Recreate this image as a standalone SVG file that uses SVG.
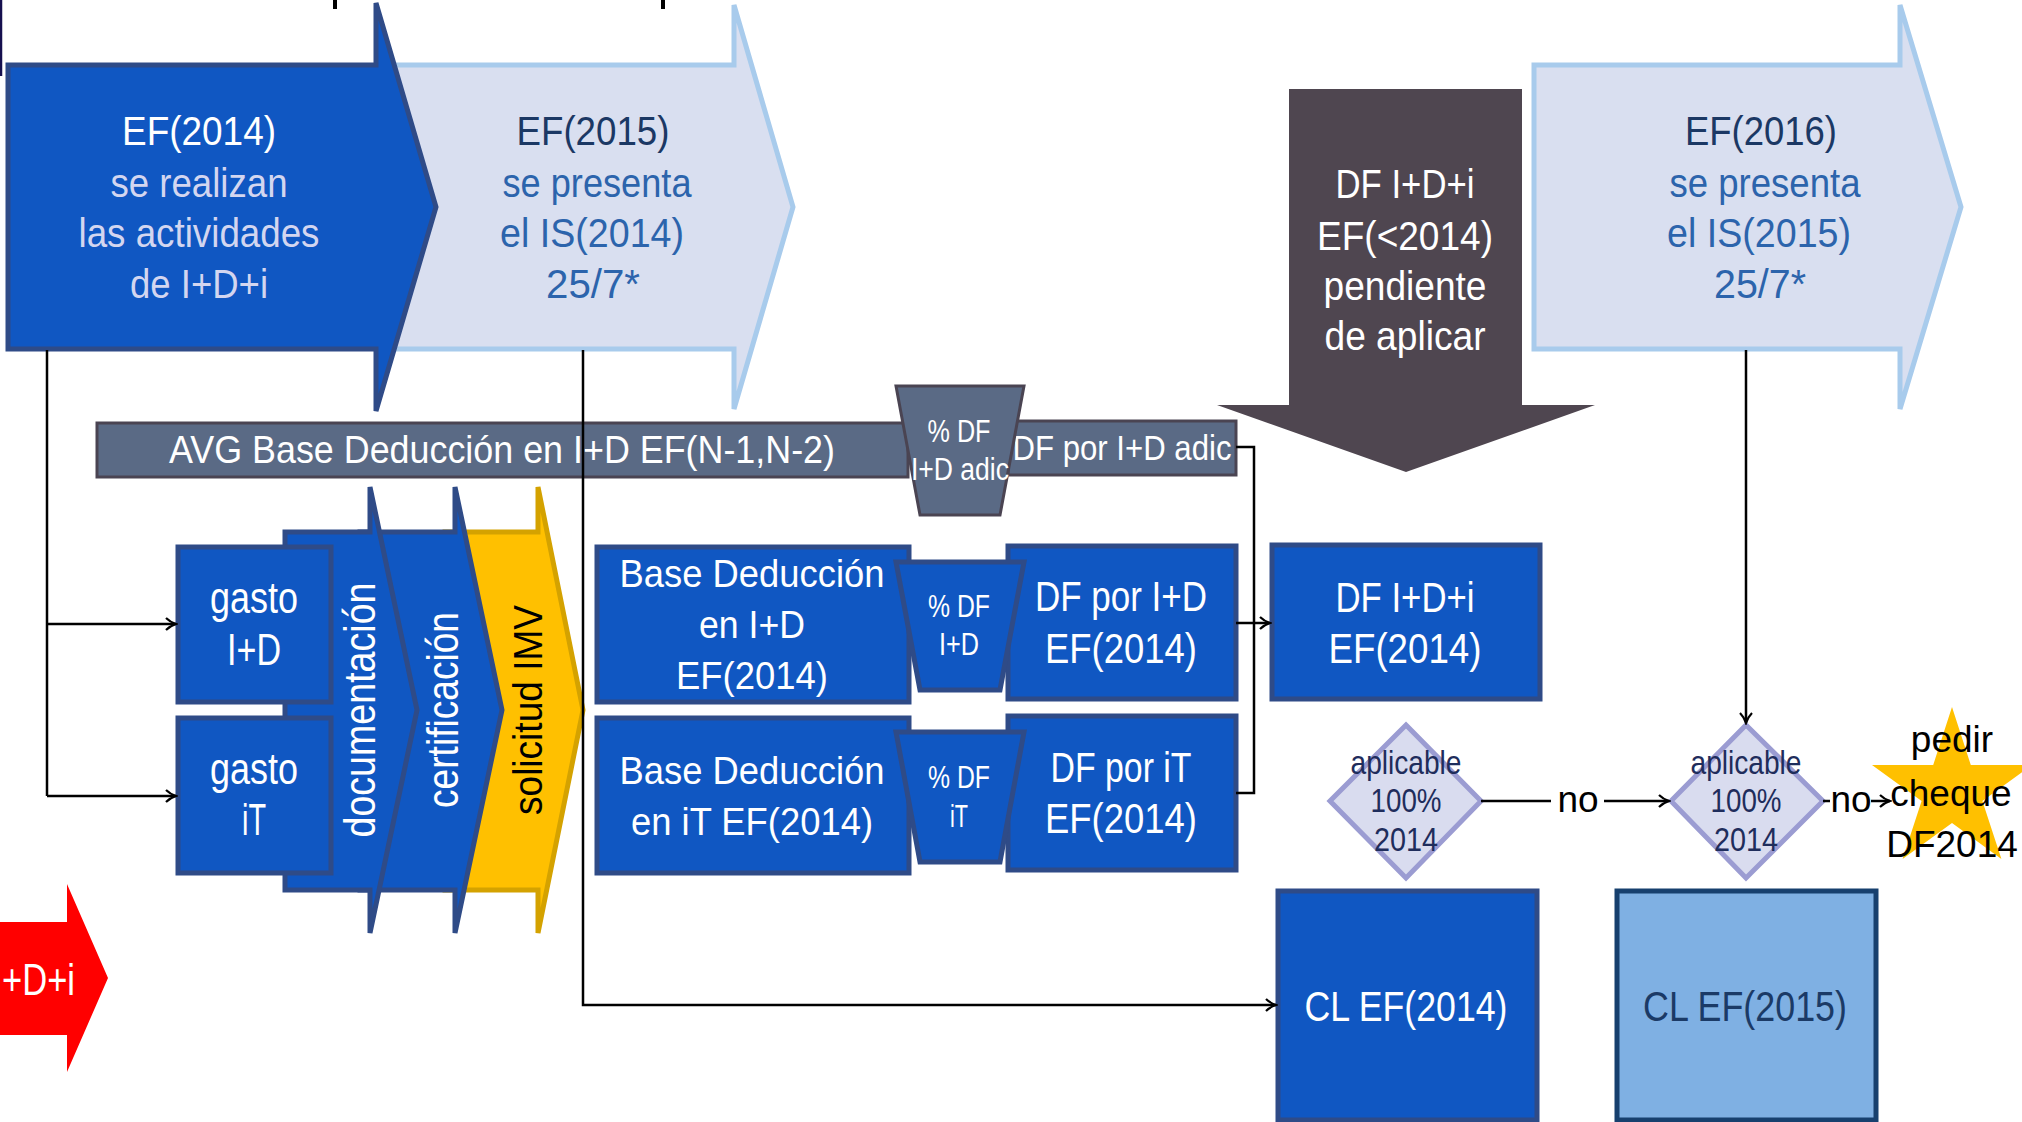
<svg xmlns="http://www.w3.org/2000/svg" width="2022" height="1122" viewBox="0 0 2022 1122">
<defs>
<marker id="arr" markerWidth="14" markerHeight="14" refX="12" refY="7" orient="auto" markerUnits="userSpaceOnUse"><path d="M2,1 Q6,5 12,7 Q6,9 2,13" fill="none" stroke="#000" stroke-width="2.2"/></marker>
<linearGradient id="edge" x1="0" y1="0" x2="0" y2="1"><stop offset="0" stop-color="#16104F"/><stop offset="0.6" stop-color="#3A3570"/><stop offset="1" stop-color="#D8D8E6"/></linearGradient>
<style>
text{font-family:"Liberation Sans",Arial,sans-serif;}
.blue{fill:#1057C2;stroke:#2F4B87;stroke-width:5;stroke-linejoin:miter;}
.light{fill:#D9DFF0;stroke:#A8CBEC;stroke-width:5;}
.slate{fill:#5A6A85;stroke:#4A4452;stroke-width:3;}
.diam{fill:#D9DCEF;stroke:#9B9CD2;stroke-width:5;}
.conn{fill:none;stroke:#000;stroke-width:2.5;}
.w{fill:#FFFFFF;text-anchor:middle;}
.lav{fill:#D3D6F0;text-anchor:middle;}
.navy{fill:#1B3864;text-anchor:middle;}
.mid{fill:#2C64AC;text-anchor:middle;}
.dk{fill:#1F2D5C;text-anchor:middle;}
.bk{fill:#000;text-anchor:middle;}
</style>
</defs>
<rect width="2022" height="1122" fill="#FFFFFF"/>
<line x1="1" y1="0" x2="1" y2="76" stroke="#16104F" stroke-width="2.5"/>
<line x1="1" y1="86" x2="1" y2="1122" stroke="url(#edge)" stroke-width="2.5"/>
<rect x="333" y="0" width="4" height="9" fill="#000"/>
<rect x="661" y="0" width="4" height="9" fill="#000"/>

<g id="ef2015">
<polygon class="light" points="378,65 734,65 734,5 793,207 734,409 734,349 378,349"/>
<text class="navy" x="593" y="145" font-size="41" textLength="153" lengthAdjust="spacingAndGlyphs">EF(2015)</text>
<text class="mid" x="597" y="197" font-size="41" textLength="189" lengthAdjust="spacingAndGlyphs">se presenta</text>
<text class="mid" x="592" y="247" font-size="41" textLength="184" lengthAdjust="spacingAndGlyphs">el IS(2014)</text>
<text class="mid" x="593" y="298" font-size="41" textLength="94" lengthAdjust="spacingAndGlyphs">25/7*</text>
</g>
<g id="ef2014">
<polygon class="blue" points="8,65 376,65 376,3 436,207 376,411 376,349 8,349"/>
<text class="w" x="199" y="145" font-size="41" textLength="154" lengthAdjust="spacingAndGlyphs">EF(2014)</text>
<text class="lav" x="199" y="197" font-size="41" textLength="177" lengthAdjust="spacingAndGlyphs">se realizan</text>
<text class="lav" x="199" y="247" font-size="41" textLength="241" lengthAdjust="spacingAndGlyphs">las actividades</text>
<text class="lav" x="199" y="298" font-size="41" textLength="138" lengthAdjust="spacingAndGlyphs">de I+D+i</text>
</g>
<g id="ef2016">
<polygon class="light" points="1534,65 1900,65 1900,5 1961,207 1900,409 1900,349 1534,349"/>
<text class="navy" x="1761" y="145" font-size="41" textLength="152" lengthAdjust="spacingAndGlyphs">EF(2016)</text>
<text class="mid" x="1765" y="197" font-size="41" textLength="191" lengthAdjust="spacingAndGlyphs">se presenta</text>
<text class="mid" x="1759" y="247" font-size="41" textLength="184" lengthAdjust="spacingAndGlyphs">el IS(2015)</text>
<text class="mid" x="1760" y="298" font-size="41" textLength="92" lengthAdjust="spacingAndGlyphs">25/7*</text>
</g>
<g id="df-pendiente">
<polygon points="1289,89 1522,89 1522,405 1595,405 1406,472 1217,405 1289,405" fill="#4F4650"/>
<text class="w" x="1405" y="198" font-size="40" textLength="139" lengthAdjust="spacingAndGlyphs">DF I+D+i</text>
<text class="w" x="1405" y="250" font-size="40" textLength="176" lengthAdjust="spacingAndGlyphs">EF(&lt;2014)</text>
<text class="w" x="1405" y="300" font-size="40" textLength="163" lengthAdjust="spacingAndGlyphs">pendiente</text>
<text class="w" x="1405" y="350" font-size="40" textLength="161" lengthAdjust="spacingAndGlyphs">de aplicar</text>
</g>

<g id="avg-base">
<rect class="slate" x="97" y="423" width="811" height="54"/>
<text class="w" x="502" y="463" font-size="39" textLength="666" lengthAdjust="spacingAndGlyphs">AVG Base Deducción en I+D EF(N-1,N-2)</text>
</g>
<g id="df-adic">
<rect class="slate" x="1008" y="421" width="228" height="54"/>
<text class="w" x="1122" y="460" font-size="35" textLength="219" lengthAdjust="spacingAndGlyphs">DF por I+D adic</text>
</g>
<g id="pct-adic">
<polygon class="slate" points="896,386 1024,386 1000,515 920,515"/>
<text class="w" x="959" y="442" font-size="31" textLength="63" lengthAdjust="spacingAndGlyphs">% DF</text>
<text class="w" x="960" y="480" font-size="31" textLength="98" lengthAdjust="spacingAndGlyphs">I+D adic</text>
</g>

<g id="solicitud">
<polygon points="445,532 538,532 538,487 583,710 538,933 538,890 445,890" fill="#FFC000" stroke="#D4A200" stroke-width="5"/>
<text transform="translate(542,710) rotate(-90)" x="0" y="0" font-size="40" fill="#000" text-anchor="middle" textLength="210" lengthAdjust="spacingAndGlyphs">solicitud IMV</text>
</g>
<g id="certificacion">
<polygon class="blue" points="360,532 455,532 455,487 502,710 455,933 455,890 360,890"/>
<text transform="translate(458,710) rotate(-90)" x="0" y="0" font-size="44" class="w" textLength="196" lengthAdjust="spacingAndGlyphs">certificación</text>
</g>
<g id="documentacion">
<polygon class="blue" points="285,532 370,532 370,487 417,710 370,933 370,890 285,890"/>
<text transform="translate(375,710) rotate(-90)" x="0" y="0" font-size="45" class="w" textLength="255" lengthAdjust="spacingAndGlyphs">documentación</text>
</g>
<g id="gasto-id">
<rect class="blue" x="178" y="547" width="153" height="155"/>
<text class="w" x="254" y="613" font-size="44" textLength="88" lengthAdjust="spacingAndGlyphs">gasto</text>
<text class="w" x="254" y="665" font-size="44" textLength="54" lengthAdjust="spacingAndGlyphs">I+D</text>
</g>
<g id="gasto-it">
<rect class="blue" x="178" y="718" width="153" height="155"/>
<text class="w" x="254" y="784" font-size="44" textLength="88" lengthAdjust="spacingAndGlyphs">gasto</text>
<text class="w" x="254" y="835" font-size="44" textLength="24" lengthAdjust="spacingAndGlyphs">iT</text>
</g>

<g id="base-id">
<rect class="blue" x="597" y="547" width="312" height="155"/>
<text class="w" x="752" y="587" font-size="39" textLength="265" lengthAdjust="spacingAndGlyphs">Base Deducción</text>
<text class="w" x="752" y="638" font-size="39" textLength="106" lengthAdjust="spacingAndGlyphs">en I+D</text>
<text class="w" x="752" y="689" font-size="39" textLength="152" lengthAdjust="spacingAndGlyphs">EF(2014)</text>
</g>
<g id="base-it">
<rect class="blue" x="597" y="718" width="312" height="155"/>
<text class="w" x="752" y="784" font-size="39" textLength="265" lengthAdjust="spacingAndGlyphs">Base Deducción</text>
<text class="w" x="752" y="835" font-size="39" textLength="242" lengthAdjust="spacingAndGlyphs">en iT EF(2014)</text>
</g>
<g id="df-id">
<rect class="blue" x="1008" y="546" width="228" height="153"/>
<text class="w" x="1121" y="611" font-size="43" textLength="172" lengthAdjust="spacingAndGlyphs">DF por I+D</text>
<text class="w" x="1121" y="663" font-size="43" textLength="152" lengthAdjust="spacingAndGlyphs">EF(2014)</text>
</g>
<g id="df-it">
<rect class="blue" x="1008" y="716" width="228" height="154"/>
<text class="w" x="1121" y="782" font-size="43" textLength="141" lengthAdjust="spacingAndGlyphs">DF por iT</text>
<text class="w" x="1121" y="833" font-size="43" textLength="152" lengthAdjust="spacingAndGlyphs">EF(2014)</text>
</g>
<g id="pct-id">
<polygon class="blue" points="896,562 1024,562 1000,690 920,690"/>
<text class="w" x="959" y="617" font-size="31" textLength="62" lengthAdjust="spacingAndGlyphs">% DF</text>
<text class="w" x="959" y="655" font-size="31" textLength="40" lengthAdjust="spacingAndGlyphs">I+D</text>
</g>
<g id="pct-it">
<polygon class="blue" points="896,732 1024,732 1000,862 920,862"/>
<text class="w" x="959" y="788" font-size="31" textLength="62" lengthAdjust="spacingAndGlyphs">% DF</text>
<text class="w" x="959" y="827" font-size="31" textLength="18" lengthAdjust="spacingAndGlyphs">iT</text>
</g>

<g id="df-idi-2014">
<rect class="blue" x="1272" y="545" width="268" height="154"/>
<text class="w" x="1405" y="612" font-size="43" textLength="139" lengthAdjust="spacingAndGlyphs">DF I+D+i</text>
<text class="w" x="1405" y="663" font-size="43" textLength="153" lengthAdjust="spacingAndGlyphs">EF(2014)</text>
</g>
<g id="aplicable-1">
<polygon class="diam" points="1406,725 1481,801 1406,878 1330,801"/>
<text class="dk" x="1406" y="774" font-size="33" textLength="111" lengthAdjust="spacingAndGlyphs">aplicable</text>
<text class="dk" x="1406" y="812" font-size="33" textLength="71" lengthAdjust="spacingAndGlyphs">100%</text>
<text class="dk" x="1406" y="851" font-size="33" textLength="64" lengthAdjust="spacingAndGlyphs">2014</text>
</g>
<g id="aplicable-2">
<polygon class="diam" points="1746,725 1823,801 1746,878 1671,801"/>
<text class="dk" x="1746" y="774" font-size="33" textLength="111" lengthAdjust="spacingAndGlyphs">aplicable</text>
<text class="dk" x="1746" y="812" font-size="33" textLength="71" lengthAdjust="spacingAndGlyphs">100%</text>
<text class="dk" x="1746" y="851" font-size="33" textLength="64" lengthAdjust="spacingAndGlyphs">2014</text>
</g>
<g id="pedir-cheque">
<polygon points="1952,707 1970.8,765 2032,765 1982.4,801 2001.4,859 1952,823 1902.6,859 1921.6,801 1872,765 1933.2,765" fill="#FFC000"/>
<text class="bk" x="1952" y="752" font-size="37">pedir</text>
<text class="bk" x="1951" y="806" font-size="37">cheque</text>
<text class="bk" x="1952" y="857" font-size="37">DF2014</text>
</g>
<g id="cl-2014">
<rect class="blue" x="1278" y="891" width="259" height="229"/>
<text class="w" x="1406" y="1021" font-size="43" textLength="203" lengthAdjust="spacingAndGlyphs">CL EF(2014)</text>
</g>
<g id="cl-2015">
<rect x="1617" y="891" width="259" height="229" fill="#7FB0E3" stroke="#17406E" stroke-width="5"/>
<text x="1745" y="1021" font-size="43" fill="#1B3A66" text-anchor="middle" textLength="204" lengthAdjust="spacingAndGlyphs">CL EF(2015)</text>
</g>
<g id="idi-red">
<polygon points="0,922 67,922 67,884 108,978 67,1072 67,1035 0,1035" fill="#FF0000"/>
<text x="2" y="995" font-size="44" fill="#FFFFFF" textLength="73" lengthAdjust="spacingAndGlyphs">+D+i</text>
</g>

<g id="connectors">
<path class="conn" d="M47,350 V796"/>
<path class="conn" d="M47,624 H176" marker-end="url(#arr)"/>
<path class="conn" d="M47,796 H176" marker-end="url(#arr)"/>
<path class="conn" d="M583,350 V1005 H1276" marker-end="url(#arr)"/>
<path class="conn" d="M1236,447 H1254 V793 H1236"/>
<path class="conn" d="M1236,623 H1270" marker-end="url(#arr)"/>
<path class="conn" d="M1746,350 V723" marker-end="url(#arr)"/>
<path class="conn" d="M1481,801 H1551"/>
<path class="conn" d="M1604,801 H1669" marker-end="url(#arr)"/>
<path class="conn" d="M1823,801 H1830"/>
<path class="conn" d="M1871,801 H1890" marker-end="url(#arr)"/>
<text class="bk" x="1578" y="812" font-size="37">no</text>
<text class="bk" x="1851" y="812" font-size="37">no</text>
</g>
</svg>
